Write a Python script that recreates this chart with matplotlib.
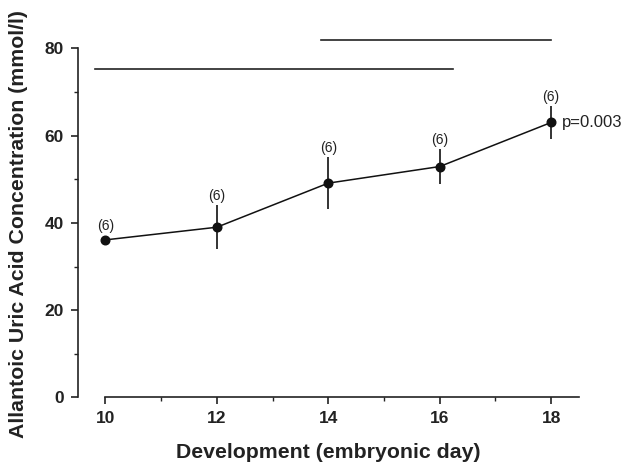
import matplotlib.pyplot as plt
from matplotlib.ticker import MultipleLocator

plt.rcParams['font.family'] = ['Liberation Sans', 'DejaVu Sans']

days = [10, 12, 14, 16, 18]
uric = [36.1, 39.0, 49.1, 52.9, 63.0]
err = [1.0, 5.0, 5.9, 4.0, 3.7]
n_labels = ["(6)", "(6)", "(6)", "(6)", "(6)"]

# significance bars (x start, x end, y)
bar1 = (9.82, 16.24, 75.3)
bar2 = (13.87, 18.0, 81.9)

fig = plt.figure(figsize=(6.23, 4.65), dpi=100)
ax = fig.add_axes([0.1244, 0.1452, 0.9294 - 0.1244, 0.9338 - 0.1452])

ax.errorbar(days, uric, yerr=err, fmt='o-', color='#111111', ms=6.2, lw=1.1,
            elinewidth=1.2, capsize=0)

for x, y, e, lab in zip(days, uric, err, n_labels):
    ax.text(x, y + e + 0.5, lab, ha='center', va='bottom', fontsize=10, color='#222222')

ax.text(18.2, uric[-1], "p=0.003", ha='left', va='center', fontsize=12, color='#222222')

for b in (bar1, bar2):
    ax.plot([b[0], b[1]], [b[2], b[2]], color='#222222', lw=1.2, clip_on=False)

ax.set_xlim(9.5, 18.5)
ax.set_ylim(0, 84)
ax.spines['top'].set_visible(False)
ax.spines['right'].set_visible(False)
ax.spines['bottom'].set_bounds(10, 18.5)
ax.spines['left'].set_bounds(0, 80)
for s in ('bottom', 'left'):
    ax.spines[s].set_linewidth(1.2)
    ax.spines[s].set_color('#222222')

ax.set_xticks(days)
ax.set_yticks([0, 20, 40, 60, 80])
ax.xaxis.set_minor_locator(MultipleLocator(1))
ax.yaxis.set_minor_locator(MultipleLocator(10))
ax.tick_params(which='major', length=5, width=1.2, labelsize=12.5, pad=5,
               color='#222222', labelcolor='#222222')
ax.tick_params(which='minor', length=3, width=1, color='#222222')
for lab in ax.get_xticklabels() + ax.get_yticklabels():
    lab.set_fontweight('bold')

ax.set_xlabel("Development (embryonic day)", fontsize=15.3, fontweight='bold', labelpad=12, color='#222222')
ax.set_ylabel("Allantoic Uric Acid Concentration (mmol/l)", fontsize=15.3, fontweight='bold', color='#222222')
ax.yaxis.set_label_coords(-0.099, 0.473)

fig.savefig("out.png", dpi=100)
